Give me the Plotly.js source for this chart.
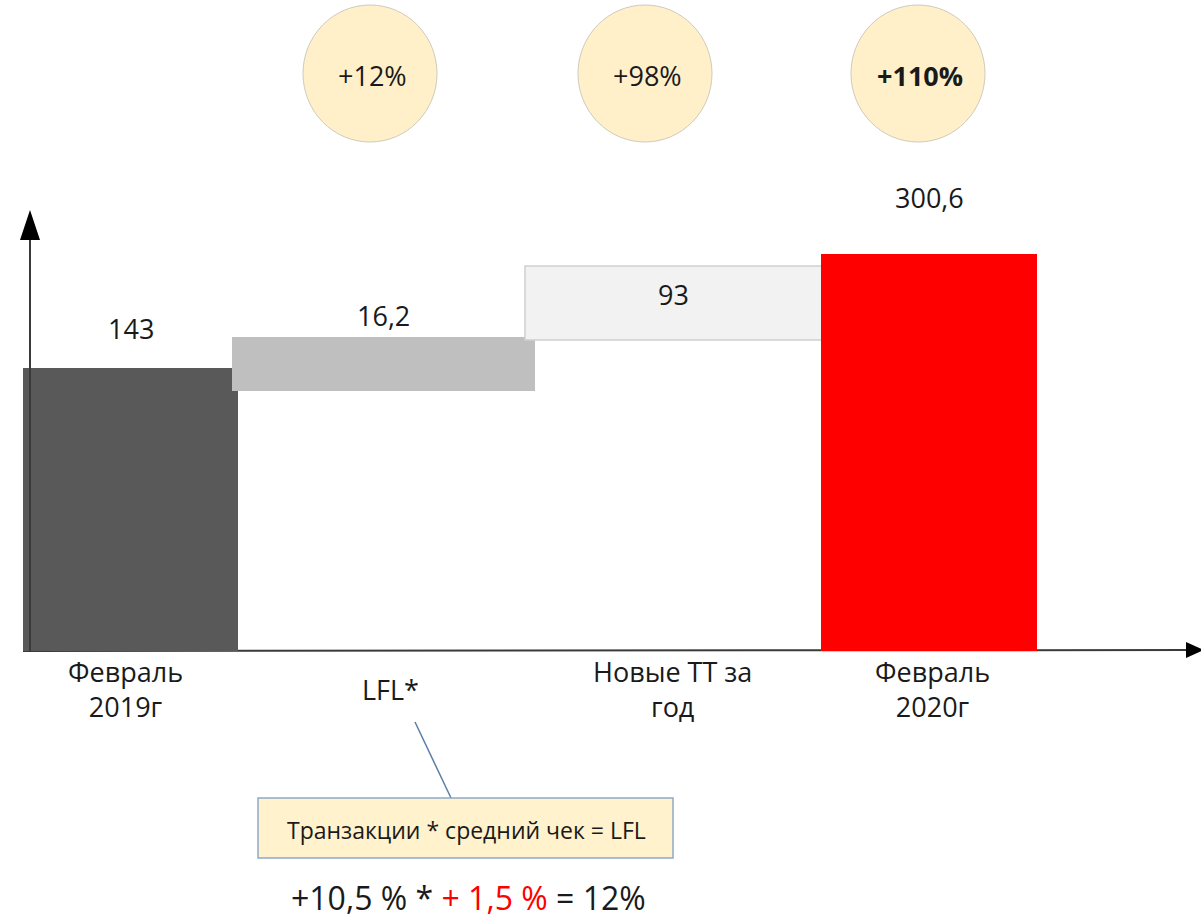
<!DOCTYPE html>
<html>
<head>
<meta charset="utf-8">
<script src="https://cdn.plot.ly/plotly-3.0.1.min.js"></script>
<style>
  html, body { margin: 0; padding: 0; background: #ffffff; }
  #chart { width: 1201px; height: 920px; }
</style>
</head>
<body>
<div id="chart"></div>
<script>
// ---------- data ----------
const categories  = ['Февраль<br>2019г', 'LFL*', 'Новые ТТ за<br>год', 'Февраль<br>2020г'];
const valueLabels = ['143', '16,2', '93', '300,6'];
// drawn extent of each bar, in the chart's own value units (as pictured)
const barBottom   = [0, 131.4, 157.2, 0];
const barTop      = [143, 158.7, 194.5, 200.6];
const growthLabels = ['+12%', '+98%', '+110%'];
const noteText    = 'Транзакции * средний чек = LFL';
const formulaParts = ['+10,5 % * ', '+ 1,5 %', ' = 12%'];

// ---------- layout constants ----------
const W = 1201, H = 920;
const FONT = 'Open Sans, Noto Sans, DejaVu Sans, sans-serif';
const TXT = '#1a1a1a';
const zeroPx = 651;                 // pixel row of the value zero
const pxPerUnit = 283 / 143;        // vertical scale
const catPx = 266, firstCatPx = 130; // category spacing on the page
const barEdgesPx = [[23, 238], [232, 535], [525, 822], [821, 1037]];
const barColors = ['#595959', '#bfbfbf', '#f2f2f2', '#ff0000'];
const barLineColors = ['#4a4a4a', '#bfbfbf', '#cfcfcf', '#e8e8e8'];
const barLineWidths = [0, 0, 1.5, 0];
const labelShift = [40, 21, -28, 57];
const catLabelShiftPx = [-5, -6, 10, 4];
const catLabelRowPx = 689;
const circleCentersPx = [370, 645, 918];

const px = x => x / W;
const py = y => 1 - y / H;
const toCat = x => (x - firstCatPx) / catPx;

const offsets = barEdgesPx.map((e, i) => toCat(e[0]) - i);
const widths  = barEdgesPx.map(e => (e[1] - e[0]) / catPx);

const trace = {
  type: 'bar',
  x: categories,
  y: barTop.map((t, i) => t - barBottom[i]),
  base: barBottom,
  offset: offsets,
  width: widths,
  marker: { color: barColors, line: { color: barLineColors, width: barLineWidths } },
  hoverinfo: 'skip',
  showlegend: false
};

const annotations = [];
// category labels (vertically centred under the axis, as in the picture)
categories.forEach((c, i) => {
  annotations.push({
    x: i, xref: 'x', y: py(catLabelRowPx), yref: 'paper',
    xshift: catLabelShiftPx[i], text: c, showarrow: false,
    xanchor: 'center', yanchor: 'middle', align: 'center',
    font: { family: FONT, size: 27, color: TXT }
  });
});
// value labels
valueLabels.forEach((t, i) => {
  annotations.push({
    x: i + offsets[i] + widths[i] / 2, y: barTop[i], xref: 'x', yref: 'y',
    text: t, showarrow: false, yshift: labelShift[i], yanchor: 'middle',
    font: { family: FONT, size: 27, color: TXT }
  });
});
// growth circles text
growthLabels.forEach((t, i) => {
  annotations.push({
    x: px(circleCentersPx[i] + 2), y: py(76), xref: 'paper', yref: 'paper',
    text: i === growthLabels.length - 1 ? '<b>' + t + '</b>' : t,
    showarrow: false, xanchor: 'center', yanchor: 'middle',
    font: { family: FONT, size: 27, color: TXT }
  });
});
// callout text
annotations.push({
  x: px(467), y: py(830), xref: 'paper', yref: 'paper', text: noteText,
  showarrow: false, xanchor: 'center', yanchor: 'middle',
  font: { family: FONT, size: 23, color: TXT }
});
// formula
annotations.push({
  x: px(468), y: py(897), xref: 'paper', yref: 'paper',
  text: formulaParts[0] + '<span style="color:#ff0000">' + formulaParts[1] + '</span>' + formulaParts[2],
  showarrow: false, xanchor: 'center', yanchor: 'middle',
  font: { family: FONT, size: 32, color: TXT }
});

const shapes = [];
// x axis line (below bars) and arrow
shapes.push({ type: 'line', xref: 'paper', yref: 'paper', layer: 'below',
  x0: px(23), y0: py(651), x1: px(1190), y1: py(650), line: { color: '#3a3a3a', width: 2 } });
shapes.push({ type: 'path', xref: 'paper', yref: 'paper', layer: 'above',
  path: `M ${px(1186)} ${py(642)} L ${px(1204)} ${py(650)} L ${px(1186)} ${py(658)} Z`,
  fillcolor: '#000000', line: { width: 0 } });
// y axis line (above bars) and arrow
shapes.push({ type: 'line', xref: 'paper', yref: 'paper', layer: 'above',
  x0: px(30), y0: py(651), x1: px(30), y1: py(236), line: { color: '#3a3a3a', width: 2 } });
shapes.push({ type: 'path', xref: 'paper', yref: 'paper', layer: 'above',
  path: `M ${px(20)} ${py(240)} L ${px(30)} ${py(210)} L ${px(40)} ${py(240)} Z`,
  fillcolor: '#000000', line: { width: 0 } });
// growth circles
circleCentersPx.forEach(cx => {
  shapes.push({ type: 'circle', xref: 'paper', yref: 'paper', layer: 'above',
    x0: px(cx - 67), x1: px(cx + 67), y0: py(142), y1: py(5),
    fillcolor: '#fff0c9', line: { color: '#cfcabc', width: 1 } });
});
// callout leader and box
shapes.push({ type: 'line', xref: 'paper', yref: 'paper', layer: 'above',
  x0: px(415), y0: py(722), x1: px(451), y1: py(798), line: { color: '#5b7ea6', width: 1.5 } });
shapes.push({ type: 'rect', xref: 'paper', yref: 'paper', layer: 'above',
  x0: px(258), y0: py(858), x1: px(673), y1: py(798),
  fillcolor: '#fff2cc', line: { color: '#8ea9c8', width: 1.5 } });

const layout = {
  width: W, height: H,
  margin: { l: 0, r: 0, t: 0, b: 0, pad: 0 },
  paper_bgcolor: '#ffffff', plot_bgcolor: '#ffffff',
  showlegend: false,
  bargap: 0,
  xaxis: {
    type: 'category', range: [toCat(0), toCat(W)], fixedrange: true,
    anchor: 'free', position: (H - zeroPx) / H,
    showgrid: false, zeroline: false, showline: false, ticks: '',
    showticklabels: false
  },
  yaxis: {
    range: [-(H - zeroPx) / pxPerUnit, zeroPx / pxPerUnit], fixedrange: true,
    visible: false, showgrid: false, zeroline: false
  },
  shapes: shapes,
  annotations: annotations
};

Plotly.newPlot('chart', [trace], layout, { displayModeBar: false, staticPlot: true });
</script>
</body>
</html>
